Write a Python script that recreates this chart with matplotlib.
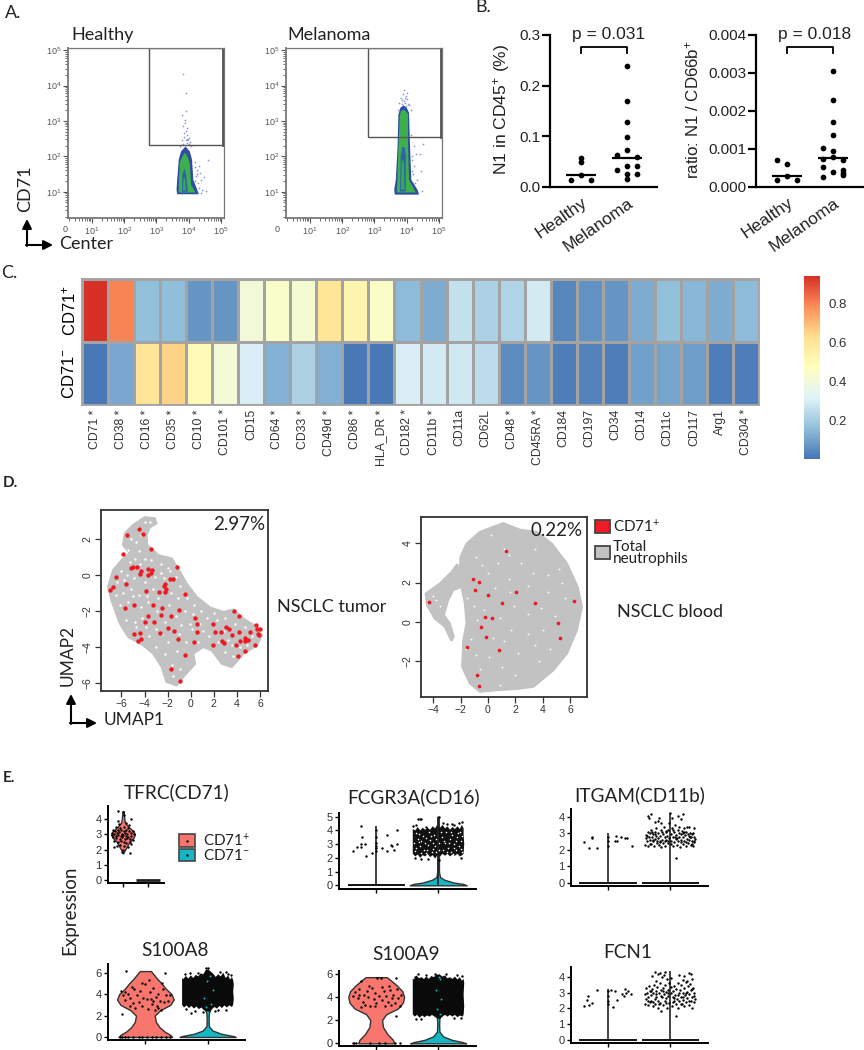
import numpy as np
import matplotlib
matplotlib.use("Agg")
import matplotlib.pyplot as plt
from matplotlib.patches import Rectangle
from matplotlib.colors import LinearSegmentedColormap
from matplotlib.transforms import ScaledTranslation

plt.rcParams['mathtext.default'] = 'regular'
W, H = 864, 1050
SANS = 'Liberation Sans'
HUM = 'Lato'
plt.rcParams['font.family'] = [SANS, 'DejaVu Sans']

# ---------- Panel A (log10 coordinates) ----------
gate_healthy = (2.77, 2.31)
gate_melanoma = (2.81, 2.56)
h_outer = [(3.62,1.06),(3.64,.93),(4.31,.93),(4.26,1.06),(4.14,1.34),(4.10,1.91),(4.03,2.14),(3.90,2.28),(3.76,2.14),(3.69,1.91),(3.64,1.34)]
h_green = [(3.69,.98),(4.21,.98),(4.07,1.20),(4.03,1.81),(3.97,1.98),(3.88,2.11),(3.79,1.98),(3.72,1.81),(3.69,1.20)]
h_blue = [(3.79,1.0),(3.97,1.0),(3.92,1.48),(3.87,1.67),(3.80,1.48)]
h_core = [(3.82,1.04),(3.91,1.04),(3.88,1.39),(3.84,1.39)]
h_sparse = [(3.82,4.33),(3.91,3.79),(3.92,3.29),(3.79,3.18),(3.87,3.04),(3.83,2.87),(3.93,2.80),(3.90,2.71),(3.95,2.61),(3.85,2.55),(4.0,2.52),(3.79,2.47),(3.90,2.45),(3.95,2.38),(4.05,2.40),(3.83,2.36),(4.59,1.91),(4.36,1.53),(4.31,1.72),(4.47,1.43),(4.39,1.34),(4.26,1.62),(4.52,1.01),(3.86,2.65),(3.97,2.47),(4.02,2.34),(3.76,2.33),(4.22,1.45),(4.30,1.25),(4.42,1.05),(3.88,2.95),(3.94,2.5),(4.08,2.3),(3.72,2.3),(4.18,1.85),(4.2,1.7),(4.25,1.5),(4.2,1.3),(4.33,1.1),(4.38,.98)]
m_outer = [(3.61,1.06),(3.63,.92),(4.38,.92),(4.33,1.06),(4.14,1.34),(4.10,2.28),(4.07,3.23),(4.0,3.37),(3.90,3.44),(3.80,3.37),(3.74,3.18),(3.71,2.19),(3.66,1.34)]
m_green = [(3.69,.98),(4.28,.98),(4.07,1.34),(4.04,2.28),(4.04,3.18),(3.97,3.28),(3.90,3.32),(3.82,3.28),(3.78,3.13),(3.74,2.19),(3.71,1.34)]
m_blue = [(3.79,1.01),(3.97,1.01),(3.97,2.0),(3.94,2.24),(3.87,2.28),(3.81,2.0)]
m_core = [(3.82,1.06),(3.93,1.06),(3.91,1.81),(3.87,1.91),(3.84,1.81)]
m_sparse = [(3.92,3.87),(3.87,3.75),(3.97,3.70),(3.82,3.65),(4.02,3.61),(3.90,3.56),(3.77,3.51),(4.07,3.46),(4.51,2.36),(4.41,2.08),(4.28,2.08),(4.22,1.72),(4.43,1.58),(4.33,1.34),(4.48,1.01),(4.17,2.0),(4.22,2.28),(3.85,3.6),(3.95,3.5),(4.0,3.8),(3.72,3.3),(4.12,3.3),(4.15,1.6),(3.93,3.65),(3.84,3.48),(4.03,3.47),(3.98,3.42),(4.12,2.6),(4.15,1.9),(4.2,1.5),(4.25,1.25)]

# ---------- Panel B ----------
b_cats = ['Healthy', 'Melanoma']
b1_h_x = [0, 0, 0, -.21, .21]
b1_h_y = [.058, .049, .023, .0145, .0145]
b1_m_x = [0, 0, 0, 0, 0, -.21, .21, 0, .21, -.21, 0, .21, 0]
b1_m_y = [.239, .169, .129, .099, .074, .064, .060, .041, .041, .033, .026, .026, .016]
b1_med = [.023, .057]
b2_h_x = [-.21, 0, 0, -.21, .21]
b2_h_y = [.00071, .00061, .00028, .000175, .00019]
b2_m_x = [0, 0, 0, 0, -.21, 0, 0, -.21, .21, -.21, .21, 0, .21, -.21, .21]
b2_m_y = [.00305, .00228, .00172, .00138, .00102, .00095, .00078, .00075, .00072, .00052, .00044, .00039, .00031, .00026, .00036]
b2_med = [.00028, .00076]

# ---------- Panel C ----------
markers = ['CD71 *','CD38 *','CD16 *','CD35 *','CD10 *','CD101 *','CD15','CD64 *','CD33 *','CD49d *','CD86 *','HLA_DR *','CD182 *','CD11b *','CD11a','CD62L','CD48 *','CD45RA *','CD184','CD197','CD34','CD14','CD11c','CD117','Arg1','CD304 *']
row_pos = [.94,.80,.16,.155,.07,.07,.40,.44,.42,.60,.52,.45,.15,.12,.26,.21,.22,.29,.04,.06,.07,.12,.16,.14,.12,.15]
row_neg = [.01,.11,.60,.65,.50,.41,.30,.13,.21,.125,.01,.01,.30,.29,.28,.245,.05,.07,.02,.03,.02,.095,.10,.085,.02,.02]
heat_colors = ['#4575B4', '#91BFDB', '#E0F3F8', '#FFFFBF', '#FEE090', '#FC8D59', '#D73027']

# ---------- Panel D ----------
tumor_outline = [(-3.97,3.19),(-3.10,3.13),(-2.96,2.85),(-3.54,2.63),(-3.83,2.20),(-3.77,1.65),(-3.25,1.37),(-2.81,1.09),(-1.65,.91),(-.93,.17),(-.35,-.48),(.52,-1.22),(1.68,-1.81),(2.84,-2.06),(3.71,-1.93),(4.58,-2.43),(5.74,-2.89),(6.17,-3.35),(5.74,-3.91),(4.58,-4.37),(3.57,-5.11),(2.70,-4.93),(1.83,-4.19),(1.10,-4.0),(.23,-4.37),(.38,-4.93),(-.64,-5.67),(-1.22,-6.13),(-2.09,-5.94),(-2.52,-5.11),(-3.25,-4.37),(-4.12,-3.91),(-5.42,-3.44),(-6.14,-2.70),(-6.87,-1.41),(-7.16,-.67),(-6.72,.26),(-6.0,.81),(-5.28,1.19),(-5.86,1.65),(-5.71,2.30),(-4.99,2.76)]
tumor_red_x = [-4.46,-5.48,-4.17,-3.45,-5.88,-1.22,-4.99,-5.13,-4.64,-3.68,-3.39,-4.32,-4.41,-3.68,-3.45,-6.49,-6.70,-6.99,-5.62,-3.91,-2.75,-1.80,-1.51,-2.23,-2.29,-2.14,-2.23,-.46,-5.65,-4.93,-3.28,-2.49,-.99,-3.68,-2.55,-1.74,-3.97,-3.19,-1.97,-1.48,-2.67,-4.87,-4.35,-1.10,-4.29,-4.55,.32,.38,.52,.52,-.46,-1.74,-.96,1.94,2.14,2.64,1.94,2.70,2.87,3.10,3.36,3.54,4.20,3.77,4.20,5.65,6.0,5.77,5.80,5.91,5.13,3.97,4.29,4.67,4.72,5.01,5.54,4.75,4.12]
tumor_red_y = [2.54,2.20,2.26,1.43,1.15,.41,.44,.35,.41,.30,.26,.20,.07,-.02,.11,-.13,-.69,-.85,-.52,-.91,-.93,-.24,-.26,-.52,-.61,-.81,-.96,-1.04,-1.83,-1.69,-1.67,-1.83,-1.93,-2.30,-2.24,-2.30,-2.61,-2.59,-2.93,-3.09,-3.22,-3.28,-3.22,-3.56,-3.57,-3.69,-3.74,-2.41,-2.74,-3.15,-4.46,-5.24,-5.89,-2.74,-3.17,-3.17,-3.91,-3.65,-3.76,-2.87,-3.02,-3.31,-3.17,-2.0,-2.31,-2.76,-2.98,-3.0,-3.30,-3.35,-3.19,-3.87,-3.65,-3.50,-3.67,-3.61,-3.91,-4.24,-4.52]
tumor_gaps = [(-4.6,2.6),(-4.0,2.9),(-3.5,2.9),(-5.2,2.0),(-4.7,1.8),(-4.3,2.2),(-5.4,1.4),(-4.5,1.3),(-4.0,.9),(-5.3,.7),(-4.8,.9),(-3.4,.8),(-2.6,.6),(-2.0,.4),(-6.0,.2),(-5.5,.0),(-4.9,-.2),(-4.0,-.4),(-3.1,-.1),(-2.6,.1),(-1.3,-.1),(-.9,-.6),(-6.4,-.4),(-5.9,-1.0),(-5.2,-.8),(-4.5,-1.1),(-3.3,-.8),(-2.8,-1.3),(-1.7,-1.0),(-1.1,-1.3),(-.3,-1.3),(.3,-1.7),(-6.1,-1.7),(-5.4,-1.5),(-4.3,-1.8),(-3.7,-1.5),(-2.9,-2.0),(-1.9,-1.7),(-1.3,-2.3),(-.5,-2.0),(.2,-2.2),(.9,-2.0),(1.4,-2.4),(2.3,-2.5),(3.0,-2.4),(-5.6,-2.5),(-4.8,-2.6),(-4.2,-2.4),(-3.0,-3.0),(-2.2,-2.6),(-.8,-2.8),(.1,-3.0),(1.1,-3.1),(1.6,-3.4),(2.4,-3.7),(3.2,-3.6),(3.8,-2.7),(4.7,-2.9),(5.3,-3.4),(-4.7,-2.9),(-3.6,-3.4),(-2.0,-3.7),(-.4,-3.7),(.6,-3.7),(3.0,-4.3),(3.7,-4.5),(-3.0,-4.0),(-2.2,-4.4),(-1.2,-4.2),(-1.6,-5.0),(-.9,-5.2),(-1.5,-5.6),(4.9,-3.9),(-5.0,-1.2),(-3.9,-2.9),(-2.5,-3.3),(-1.0,-3.3),(.8,-2.7),(2.0,-2.1),(2.9,-3.1),(3.6,-3.9),(4.3,-4.0),(-6.5,-1.1),(-5.8,-.3),(-4.4,.6),(-3.8,-1.2),(-2.3,-.2),(-1.8,.2),(-.6,-1.0),(-.1,-2.7)]
blood_body = [(1.12,5.03),(2.34,4.69),(3.56,4.58),(4.66,3.98),(5.76,2.97),(6.54,1.78),(6.85,.76),(6.49,-.42),(5.76,-1.61),(4.78,-2.46),(3.32,-3.31),(2.10,-3.42),(.88,-3.47),(-.59,-3.56),(-1.32,-3.14),(-1.88,-2.29),(-1.80,-.93),(-1.56,-.08),(-1.68,.93),(-1.93,1.78),(-2.05,2.54),(-2.0,3.31),(-1.56,3.98),(-.59,4.58)]
blood_lobe = [(-4.54,1.44),(-3.51,1.95),(-2.66,2.54),(-2.24,2.93),(-2.05,2.54),(-1.93,1.78),(-2.54,1.61),(-2.90,1.10),(-3.22,.34),(-2.78,-.08),(-2.49,-.76),(-2.66,-.97),(-3.15,-.25),(-3.88,.17),(-4.44,.85)]
blood_red_x = [1.32,-1.10,-.66,-.98,-.02,2.05,1.0,3.46,6.24,-4.29,-.24,.32,-.51,-.12,-1.54,.80,5.07,5.27,-.78,-.66]
blood_red_y = [3.61,2.19,2.03,1.61,1.37,1.53,.97,.97,1.08,1.02,.24,.17,-.27,-.76,-1.29,-1.42,-.08,-.83,-2.73,-3.27]
blood_gaps = [(1.2,3.7),(1.5,3.4),(.2,4.4),(3.4,3.7),(5.2,2.7),(5.4,2.0),(2.4,3.0),(.7,3.0),(-.9,3.3),(3.3,2.5),(4.4,2.4),(.0,2.5),(1.5,2.2),(-.4,2.9),(.5,1.7),(2.9,1.8),(4.4,1.5),(5.6,1.2),(-1.0,.8),(-.3,.6),(1.9,.8),(2.9,.4),(3.9,.7),(4.9,.3),(.9,.2),(-.8,.1),(1.7,-.4),(2.9,-.6),(4.0,-.4),(-1.2,-.9),(.4,-.8),(1.2,-1.0),(3.4,-1.2),(4.5,-1.4),(-.9,-1.7),(.1,-1.8),(2.2,-1.6),(3.7,-2.0),(1.0,-2.3),(-.6,-2.4),(2.0,-2.7),(.9,-3.2),(-3.8,1.1),(-3.5,.8),(-4.0,1.3),(-1.5,1.2),(-1.6,-1.4),(1.6,1.5)]

# ---------- Panel E ----------
tfrc_y = [4.55,4.2,3.8,3.5,3.2,3.0,2.8,2.5,2.2,1.9,1.75]
tfrc_w = [.02,.04,.07,.22,.42,.47,.42,.25,.15,.05,.01]
tfrc_pts = [(-.22,4.55),(.0,4.5),(.03,4.3),(.33,4.05),(-.2,3.9),(-.15,3.7),(.1,3.75),(.22,3.6),(-.3,3.5),(-.12,3.45),(.05,3.5),(.18,3.4),(-.42,3.3),(-.33,3.25),(-.22,3.3),(-.08,3.3),(.02,3.25),(.12,3.3),(.25,3.25),(.38,3.2),(-.45,3.1),(-.36,3.05),(-.26,3.1),(-.16,3.15),(-.05,3.05),(.07,3.1),(.16,3.05),(.3,3.1),(.42,3.0),(-.44,2.95),(-.3,2.9),(-.2,2.95),(-.1,2.9),(.0,2.95),(.1,2.9),(.2,2.85),(.33,2.9),(-.4,2.8),(-.27,2.75),(-.14,2.7),(-.03,2.8),(.06,2.7),(.15,2.75),(.26,2.7),(.38,2.65),(-.35,2.55),(-.22,2.5),(-.1,2.55),(.03,2.5),(.13,2.45),(.28,2.5),(-.38,2.2),(-.25,2.25),(-.12,2.3),(.05,2.25),(.2,2.2),(.3,2.35),(-.02,2.0),(.27,1.75),(-.05,1.85)]
fcgr_pts1 = [(-.38,2.49),(-.31,2.8),(-.24,2.8),(-.24,4.35),(-.23,3.55),(-.25,3.04),(-.18,3.04),(-.17,2.13),(-.06,2.37),(.18,3.65),(.10,2.75),(.17,2.49),(.24,2.92),(.26,2.85),(.29,2.56),(.33,3.04),(.33,4.06),(0,2.5),(0,2.7),(0,2.9),(0,3.05),(0,3.5),(0,4.0)]
fcgr_cloud = [(-.41,2.3),(-.37,2.1),(-.33,2.25),(-.29,2.0),(-.25,2.2),(-.21,2.1),(-.17,2.3),(-.13,2.05),(-.09,2.2),(-.05,1.95),(-.01,2.2),(.03,2.1),(.07,2.3),(.11,2.15),(.15,2.3),(.19,2.1),(.23,2.25),(.27,2.15),(.31,2.3),(.35,2.1),(.39,2.2),(.41,2.3),(.42,3.0),(.41,3.7),(.41,4.15),(.38,4.4),(.35,4.1),(.31,4.3),(.27,4.1),(.23,4.25),(.19,4.05),(.15,4.3),(.11,4.15),(.07,4.4),(.03,4.2),(-.01,4.45),(-.05,4.15),(-.09,4.3),(-.13,4.05),(-.17,4.2),(-.21,4.05),(-.25,4.2),(-.29,4.0),(-.33,4.25),(-.37,4.0),(-.41,4.1)]
fcgr_stray = [(-.33,4.85),(-.30,4.85),(-.28,4.85),(.02,4.95),(.39,4.65),(.33,4.55),(.22,4.5),(.02,1.85),(.37,2.0),(-.16,1.95),(-.38,2.0),(.26,4.4),(-.2,4.25),(.15,4.5),(.07,4.55),(-.35,4.4),(-.4,4.3),(-.27,1.95)]
fcgr_gaps = [(-.37,2.5),(-.33,3.4),(-.36,3.8),(-.29,2.9),(-.25,3.6),(-.27,2.35),(-.22,3.05),(-.18,2.6),(-.15,3.9),(-.13,3.3),(-.1,2.4),(-.07,3.7),(-.05,2.85),(.06,3.5),(.08,2.55),(.11,3.1),(.13,3.85),(.16,2.7),(.19,3.35),(.21,2.4),(.23,3.7),(.26,3.0),(.28,2.55),(.3,3.55),(.33,2.85),(.35,3.9),(.37,3.25),(.38,2.4),(-.31,3.15),(-.2,2.35),(.24,2.3),(-.09,3.05),(-.39,3.1),(-.35,2.7),(-.31,3.75),(-.27,3.2),(-.23,2.6),(-.19,3.45),(-.16,2.95),(-.11,3.6),(-.08,2.65),(-.03,3.35),(.02,2.6),(.04,3.9),(.09,3.2),(.14,2.45),(.17,3.05),(.2,3.85),(.25,2.75),(.29,3.25),(.32,3.8),(.36,2.65),(.39,3.6),(.02,3.05),(-.04,2.45)]
itgam_pts1 = [(-.38,2.49),(-.31,2.12),(-.26,2.78),(-.25,2.72),(-.17,2.10),(.13,2.86),(.11,2.55),(.15,2.51),(.21,2.80),(.275,2.73),(.31,2.73),(.39,2.24),(0,2.2),(0,2.5),(0,2.8)]
itgam_pts2 = [(-.40,2.3),(-.39,2.7),(-.38,2.9),(-.37,2.5),(-.36,3.1),(-.35,2.2),(-.34,2.8),(-.33,2.6),(-.32,3.0),(-.31,2.35),(-.30,3.2),(-.29,2.75),(-.28,2.5),(-.27,2.95),(-.26,2.2),(-.25,3.1),(-.24,2.65),(-.23,2.85),(-.22,3.3),(-.21,2.4),(-.20,2.7),(-.19,3.0),(-.18,2.3),(-.17,2.55),(-.16,2.85),(-.15,3.2),(-.14,2.15),(-.13,2.6),(-.12,2.95),(-.11,2.4),(-.10,3.35),(-.09,2.75),(-.08,2.25),(-.07,3.05),(-.06,2.6),(-.05,2.85),(-.04,2.4),(-.03,3.2),(-.02,2.7),(-.01,3.6),(.01,2.5),(.02,2.95),(.03,3.3),(.04,2.2),(.05,2.75),(.06,3.05),(.07,2.45),(.08,3.5),(.09,2.65),(.10,2.9),(.11,2.3),(.12,3.2),(.13,2.55),(.14,2.8),(.15,3.4),(.16,2.15),(.17,2.95),(.18,2.6),(.19,3.15),(.20,2.35),(.21,2.75),(.22,3.3),(.23,2.5),(.24,2.9),(.25,2.2),(.26,3.05),(.27,2.65),(.28,3.35),(.29,2.4),(.30,2.85),(.31,2.6),(.32,3.0),(.33,2.3),(.34,2.75),(.35,2.95),(.36,2.5),(.37,2.2),(.38,2.8),(.39,2.45),(.40,2.65),(-.36,4.05),(-.30,4.15),(-.34,3.9),(-.25,3.7),(-.2,3.75),(-.15,3.6),(-.18,3.9),(.0,4.2),(.03,3.9),(.12,4.05),(.2,4.18),(.17,3.85),(.09,1.5),(.38,3.3),(.3,3.35),(-.37,2.85),(-.33,2.35),(-.29,3.05),(-.27,2.6),(-.24,2.95),(-.21,2.55),(-.16,2.45),(-.13,3.05),(-.09,2.5),(-.06,3.15),(-.03,2.55),(.02,2.35),(.05,3.2),(.08,2.8),(.11,2.7),(.14,3.0),(.17,2.45),(.2,3.0),(.23,3.1),(.26,2.45),(.29,2.95),(.32,2.75),(.35,2.35),(.37,3.0),(.38,2.55)]
fcn_pts1 = [(-.38,2.17),(-.30,2.19),(-.26,2.34),(-.33,2.55),(-.32,2.77),(-.17,3.15),(.14,2.51),(.08,2.09),(.045,3.19),(.11,3.13),(.22,2.94),(.275,3.23),(.26,2.77),(.32,3.09),(.365,2.94),(.29,2.98),(0,2.5),(0,2.3),(0,2.8),(0,3.1)]
fcn_pts2 = [(-.41,2.3),(-.40,2.9),(-.39,3.3),(-.38,2.6),(-.37,3.0),(-.36,2.2),(-.35,2.75),(-.34,3.4),(-.33,2.4),(-.32,3.1),(-.31,2.85),(-.30,2.5),(-.29,3.25),(-.28,2.15),(-.27,2.95),(-.26,3.5),(-.25,2.6),(-.24,2.3),(-.23,3.1),(-.22,2.75),(-.21,3.35),(-.20,2.0),(-.19,2.5),(-.18,2.95),(-.17,3.6),(-.16,2.35),(-.15,3.15),(-.14,1.85),(-.13,2.7),(-.12,3.3),(-.11,2.2),(-.10,2.9),(-.09,3.5),(-.08,2.45),(-.07,3.05),(-.06,2.65),(-.05,2.05),(-.04,3.2),(-.03,2.8),(-.02,3.65),(-.01,2.35),(.01,2.95),(.02,3.35),(.03,2.15),(.04,2.7),(.05,3.1),(.06,2.5),(.07,3.45),(.08,2.85),(.09,2.3),(.10,3.25),(.11,2.6),(.12,3.6),(.13,2.0),(.14,2.95),(.15,2.45),(.16,3.15),(.17,2.75),(.18,3.5),(.19,2.25),(.20,3.0),(.21,2.55),(.22,3.3),(.23,2.15),(.24,2.85),(.25,3.7),(.26,2.4),(.27,3.05),(.28,2.65),(.29,3.4),(.30,2.2),(.31,2.9),(.32,3.55),(.33,2.5),(.34,3.15),(.35,2.0),(.36,2.75),(.37,3.3),(.38,2.4),(.39,3.0),(.40,2.6),(-.29,4.05),(-.25,4.3),(-.2,4.2),(-.17,4.25),(-.13,4.0),(-.1,4.15),(-.08,4.35),(-.22,3.75),(-.05,3.85),(.02,3.95),(.09,1.5),(.15,4.1),(.22,4.05),(.3,4.25),(.33,4.2),(.36,3.85),(.2,3.8),(.27,3.75),(-.36,2.5),(-.3,3.1),(-.27,2.4),(-.23,2.9),(-.18,2.25),(-.15,2.8),(-.11,3.1),(-.06,2.35),(-.03,2.95),(.04,2.4),(.07,2.65),(.12,2.85),(.17,2.3),(.21,2.75),(.26,2.95),(.31,2.45),(.35,3.25),(.38,2.8)]
s8_y = [0,.2,.5,.9,1.4,2,2.5,3,3.5,4,4.5,5,5.5,6.15]
s8_w = [.43,.40,.31,.23,.17,.15,.24,.40,.455,.42,.33,.26,.18,.09]
s8_pts = [(-.31,6.16),(.31,6.0),(-.38,2.16),(-.39,4.25),(-.36,3.94),(-.32,3.47),(-.28,4.03),(-.25,3.6),(-.22,4.7),(-.2,3.2),(-.16,2.75),(-.14,3.9),(-.11,3.3),(-.08,4.3),(-.05,2.9),(-.03,3.6),(.0,4.9),(.02,3.55),(.04,2.6),(.07,4.2),(.09,3.5),(.11,3.05),(.13,4.6),(.15,2.5),(.17,3.7),(.19,2.9),(.21,4.0),(.23,3.4),(.25,2.55),(.28,4.5),(.3,3.3),(.33,3.95),(.36,3.4),(.39,3.9),(-.33,4.2),(-.24,2.9),(-.18,4.5),(-.06,5.0),(.06,5.3),(.12,3.4),(.2,2.7),(.27,5.0),(-.41,.02),(-.37,.02),(-.33,.02),(-.28,.02),(-.2,.02),(-.1,.02),(-.05,.02),(.02,.02),(.1,.02),(.17,.02),(.25,.02),(.33,.02),(.39,.02)]
s8_cloud = [(-.41,3.0),(-.38,2.75),(-.34,2.95),(-.3,2.7),(-.26,2.9),(-.22,2.65),(-.18,2.85),(-.14,2.6),(-.1,2.75),(-.06,2.5),(-.02,2.4),(.03,2.35),(.07,2.6),(.11,2.8),(.15,2.65),(.19,2.9),(.23,2.7),(.27,2.95),(.31,2.75),(.35,2.95),(.39,2.8),(.41,3.0),(.42,3.6),(.41,4.2),(.42,4.9),(.41,5.3),(.39,5.6),(.36,5.35),(.33,5.75),(.29,5.5),(.25,6.0),(.21,5.65),(.17,5.85),(.13,5.6),(.09,5.9),(.05,6.1),(.01,6.3),(-.03,6.25),(-.07,5.85),(-.11,5.95),(-.15,5.65),(-.19,5.8),(-.23,5.5),(-.27,5.75),(-.31,5.45),(-.35,5.7),(-.39,5.4),(-.41,5.5)]
s8_stray = [(-.26,2.2),(-.08,2.3),(.12,2.4),(-.03,6.45),(.0,6.4),(.2,6.05),(.29,6.1),(.33,5.85),(-.36,5.85),(-.28,5.95),(-.15,5.95),(.38,5.75),(-.35,2.6),(.3,2.55),(-.2,2.45),(.17,2.55)]
s8_teal = [(.03,5.7),(-.01,5.2),(.08,4.4),(-.06,3.6),(.05,3.1),(-.02,2.8)]
s9_y = [0,.3,.8,1.4,2,2.5,3,3.5,4,4.5,5,5.4,5.7]
s9_w = [.29,.27,.18,.11,.095,.16,.35,.43,.45,.42,.33,.24,.17]
s9_pts = [(-.38,4.1),(-.34,4.4),(-.3,3.9),(-.27,4.7),(-.24,3.1),(-.22,3.6),(-.2,4.2),(-.18,3.3),(-.15,4.55),(-.13,4.0),(-.1,3.2),(-.07,4.8),(-.04,3.85),(-.02,4.3),(.0,3.5),(.02,5.65),(.05,4.05),(.07,5.65),(.09,3.7),(.12,4.5),(.14,3.2),(.16,4.1),(.19,3.6),(.22,4.6),(.24,3.3),(.27,4.2),(.3,3.5),(.33,4.65),(.35,3.9),(.32,5.65),(.38,3.2),(.32,2.35),(-.28,4.15),(-.25,5.4),(-.12,4.9),(-.02,3.2),(.1,4.85),(.2,4.95),(.26,3.9),(.4,4.2),(-.38,.02),(-.35,.02),(-.33,.02),(.39,.02),(.31,.02),(-.1,.02),(.05,.02),(.15,.02)]
s9_cloud = [(-.41,2.5),(-.38,2.3),(-.34,2.45),(-.3,2.2),(-.26,2.4),(-.22,2.25),(-.18,2.4),(-.14,2.3),(-.1,2.45),(-.06,2.3),(-.02,2.15),(.03,2.1),(.07,2.3),(.11,2.45),(.15,2.3),(.19,2.45),(.23,2.3),(.27,2.45),(.31,2.25),(.35,2.4),(.39,2.3),(.41,2.45),(.42,3.2),(.41,4.2),(.42,5.2),(.41,5.55),(.38,5.4),(.35,5.7),(.31,5.5),(.27,5.75),(.23,5.55),(.19,5.7),(.15,5.6),(.11,5.85),(.07,5.75),(.02,5.95),(-.03,5.9),(-.07,5.7),(-.11,5.8),(-.15,5.55),(-.19,5.75),(-.23,5.55),(-.27,5.7),(-.31,5.6),(-.35,5.85),(-.39,5.5),(-.41,5.6)]
s9_stray = [(-.33,5.95),(-.2,5.85),(-.05,6.0),(.12,5.95),(.3,5.85),(.38,5.8),(-.38,5.7),(-.35,2.1),(.25,2.15),(-.28,2.1),(.37,2.2)]
s9_teal = [(.01,5.75),(.03,5.5),(-.03,4.6),(.05,3.8),(-.02,3.0),(.03,2.5)]
teal_base_y = [0,.1,.3,.6,1.0,1.6,2.2,2.7,3.2]
teal_base_w = [.45,.40,.22,.08,.02,.015,.02,.05,.10]
fcgr_teal_y = [0,.1,.2,.4,.6,1.0,3.0,5.0]
fcgr_teal_w = [.46,.40,.25,.10,.03,.012,.012,.01]

SALMON, TEAL = '#F8766D', '#14B8C4'
GREY = '#C2C2C2'
RED = '#EE1C25'

fig = plt.figure(figsize=(W/100, H/100), dpi=100)

def axpx(l, t, r, b):
    return fig.add_axes([l/W, 1-b/H, (r-l)/W, (b-t)/H])

ov = fig.add_axes([0, 0, 1, 1], zorder=50)
ov.set_xlim(0, W); ov.set_ylim(H, 0); ov.axis('off'); ov.patch.set_alpha(0)

def T(x, y, s, size=11, fam=HUM, ha='left', va='center', rot=0, color='#222222', weight='normal'):
    ov.text(x, y, s, fontsize=size, family=[fam, 'DejaVu Sans'], ha=ha, va=va, rotation=rot, color=color, weight=weight)

def arrows(x, y, top, right):
    ov.annotate('', xy=(x, top), xytext=(x, y+1), arrowprops=dict(arrowstyle='-|>,head_width=.28,head_length=.55', color='k', lw=1.5, shrinkA=0, shrinkB=0))
    ov.annotate('', xy=(right, y), xytext=(x-1, y), arrowprops=dict(arrowstyle='-|>,head_width=.28,head_length=.55', color='k', lw=1.5, shrinkA=0, shrinkB=0))

# ---- Panel A
def flow(box, xl, yl, gate, layers, sparse):
    ax = axpx(*box)
    ax.set_xlim(*xl); ax.set_ylim(*yl)
    for poly, c in zip(layers, ['#2E4BA6', '#3CB04A', '#2F62AE', '#35A85A']):
        ax.fill(*zip(*poly), color=c, lw=0)
    ax.scatter(*zip(*sparse), s=1.5, color='#8496D4', lw=0)
    ax.add_patch(Rectangle((gate[0], gate[1]), xl[1]-gate[0]-.03, yl[1]-gate[1], fill=False, ec='#555555', lw=1))
    ax.plot([xl[1]-.04]*2, [gate[1], yl[1]], color='#555555', lw=2)
    ax.set_xticks([1, 2, 3, 4, 5]); ax.set_yticks([1, 2, 3, 4, 5])
    ax.set_xticklabels([f'10$^{k}$' for k in range(1, 6)])
    ax.set_yticklabels([f'10$^{k}$' for k in range(1, 6)])
    minor = [k + np.log10(m) for k in range(0, 5) for m in range(2, 10)]
    ax.set_xticks([v for v in minor if xl[0] < v < xl[1]], minor=True)
    ax.set_yticks([v for v in minor if yl[0] < v < yl[1]], minor=True)
    ax.tick_params(labelsize=6.5, length=3.5, width=.8, color='#555555', labelcolor='#555555', pad=1.5)
    ax.tick_params(which='minor', length=2, width=.6, color='#555555')
    for s in ax.spines.values():
        s.set_color('#777777'); s.set_linewidth(.9)
    ax.spines['left'].set_linewidth(1.3); ax.spines['bottom'].set_linewidth(1.3)

flow((68, 48, 224, 218), (.26, 5.09), (.26, 5.06), gate_healthy, [h_outer, h_green, h_blue, h_core], h_sparse)
flow((286, 48, 442, 218), (.26, 5.09), (.26, 5.06), gate_melanoma, [m_outer, m_green, m_blue, m_core], m_sparse)
T(65, 229, '0', 6.5, SANS, ha='center', color='#555555')
T(277, 229, '0', 6.5, SANS, ha='center', color='#555555')
T(71, 35, 'Healthy', 13)
T(287, 35, 'Melanoma', 13)
T(25, 189, 'CD71', 13, ha='center', rot=90)
T(59, 244, 'Center', 13)
arrows(27, 245, 219, 53)

# ---- Panel B
def dots(box, xl, yl, ticks, fmt, hx, hy, mx, my, med, br, ptxt):
    ax = axpx(*box)
    ax.set_xlim(*xl); ax.set_ylim(*yl)
    ax.scatter(1+np.array(hx), hy, s=17, color='k', lw=0, clip_on=False)
    ax.scatter(2+np.array(mx), my, s=17, color='k', lw=0, clip_on=False)
    ax.hlines(med, [.67, 1.67], [1.33, 2.33], color='k', lw=1.6)
    ax.plot([1, 1, 2, 2], [br[0], br[1], br[1], br[0]], color='k', lw=1.3)
    ax.text(1.59, br[2], ptxt, ha='center', va='center', fontsize=12.5, color='#222222')
    ax.set_xticks([1, 2]); ax.set_xticklabels(b_cats, rotation=35, ha='right', rotation_mode='anchor', fontsize=12.5, color='#222222')
    shift = ScaledTranslation(7/72, 0, fig.dpi_scale_trans)
    for lab in ax.get_xticklabels():
        lab.set_transform(lab.get_transform() + shift)
    ax.set_yticks(ticks); ax.set_yticklabels([fmt % t for t in ticks], fontsize=11, color='#222222')
    ax.tick_params(axis='x', length=0, pad=6)
    ax.tick_params(axis='y', length=6, width=1.6, pad=1)
    ax.spines[['top', 'right']].set_visible(False)
    ax.spines[['left', 'bottom']].set_linewidth(1.6)
    return ax

ax = dots((550, 35, 657, 187), (.326, 2.65), (0, .3), [0, .1, .2, .3], '%.1f', b1_h_x, b1_h_y, b1_m_x, b1_m_y, b1_med, (.265, .276, .3), 'p = 0.031')
ax = dots((756, 35, 864, 187), (.326, 2.67), (0, .004), [0, .001, .002, .003, .004], '%.3f', b2_h_x, b2_h_y, b2_m_x, b2_m_y, b2_med, (.00353, .00368, .004), 'p = 0.018')
T(501, 109, 'N1 in CD45$^{+}$ (%)', 12.6, SANS, ha='center', rot=90)
T(692, 110, 'ratio: N1 / CD66b$^{+}$', 12.2, SANS, ha='center', rot=90)

# ---- Panel C
ax = axpx(82, 279, 759, 405)
heat_cmap = LinearSegmentedColormap.from_list('heat', heat_colors)
mesh = ax.pcolormesh(np.array([row_pos, row_neg]), cmap=heat_cmap, vmin=0, vmax=.94, edgecolors='#A3A3A3', linewidth=.9)
ax.invert_yaxis()
ax.set_xticks(np.arange(len(markers))+.5); ax.set_xticklabels(markers, rotation=90, fontsize=8.8, color='#333333', va='top')
ax.set_yticks([])
ax.tick_params(axis='x', length=0, pad=3)
for s in ax.spines.values():
    s.set_color('#A3A3A3'); s.set_linewidth(1.3)
cax = axpx(804, 276, 820, 459)
cb = fig.colorbar(mesh, cax=cax)
cb.outline.set_visible(False); cb.set_ticks([.2, .4, .6, .8])
cb.ax.tick_params(length=0, labelsize=9.5, labelcolor='#333333', pad=6)
T(69, 311, 'CD71$^{+}$', 12, SANS, ha='center', rot=90, color='k')
T(69, 374, 'CD71$^{-}$', 12, SANS, ha='center', rot=90, color='k')

# ---- Panel D
def umap(box, xl, yl, xt, yt, polys, gaps, rx, ry, s, gs):
    ax = axpx(*box)
    ax.set_xlim(*xl); ax.set_ylim(*yl)
    for p in polys:
        ax.fill(*zip(*p), color=GREY, lw=1.5, ec=GREY)
    ax.scatter(*zip(*gaps), s=gs, color='white', lw=0, zorder=2)
    ax.scatter(rx, ry, s=s, color='#F01820', lw=0, zorder=3)
    ax.set_xticks(xt); ax.set_yticks(yt)
    ax.set_xticklabels([str(v).replace('-', '\u2212') for v in xt])
    ax.set_yticklabels([str(v).replace('-', '\u2212') for v in yt], rotation=90, va='center')
    ax.tick_params(labelsize=7.5, length=4, width=.9, pad=2, color='#333333', labelcolor='#333333')
    for sp in ax.spines.values():
        sp.set_linewidth(1.3); sp.set_color('#333333')

umap((101, 510, 268, 691), (-7.77, 6.70), (-6.44, 3.59), [-6, -4, -2, 0, 2, 4, 6], [-6, -4, -2, 0, 2], [tumor_outline], tumor_gaps, tumor_red_x, tumor_red_y, 10, 3)
umap((421, 517, 587, 697), (-4.88, 7.22), (-3.83, 5.34), [-4, -2, 0, 2, 4, 6], [-2, 0, 2, 4], [blood_body, blood_lobe], blood_gaps, blood_red_x, blood_red_y, 7, 1.8)
T(265, 525, '2.97%', 13.5, ha='right')
T(583, 531, '0.22%', 13.5, ha='right')
T(277, 607, 'NSCLC tumor', 13)
T(617, 612, 'NSCLC blood', 13)
ov.add_patch(Rectangle((595, 520), 15, 13, fc=RED, ec='#444444', lw=1.3))
ov.add_patch(Rectangle((595, 546), 15, 13, fc=GREY, ec='#444444', lw=1.3))
T(613, 527, 'CD71$^{+}$', 11)
T(613, 547, 'Total', 11)
T(613, 559, 'neutrophils', 11)
T(68, 656, 'UMAP2', 12.5, ha='center', rot=90)
T(104, 720, 'UMAP1', 12.5)
arrows(71, 723, 694, 97)

# ---- Panel E
def vio(ax, cat, ys, ws, c):
    ys, ws = np.array(ys), np.array(ws)
    ax.fill_betweenx(ys, cat-ws, cat+ws, fc=c, ec='#333333', lw=1, zorder=1)

def vax(box, xl, yl, yt, title, tx, ty):
    ax = axpx(*box)
    ax.set_xlim(*xl); ax.set_ylim(*yl)
    ax.set_xticks([1, 2]); ax.set_xticklabels([])
    ax.set_yticks(yt)
    ax.tick_params(labelsize=8, length=3, width=1, pad=1.5, labelcolor='#333333')
    ax.spines[['top', 'right']].set_visible(False)
    ax.spines[['left', 'bottom']].set_linewidth(1.4)
    T(tx, ty, title, 13.7, ha='center')
    return ax

def pts(ax, cat, p, s=3, c='k', z=3):
    a = np.array(p)
    ax.scatter(cat+a[:, 0], a[:, 1], s=s, color=c, lw=0, zorder=z)

def flat(ax, cat, half=.46):
    ax.hlines(0, cat-half, cat+half, color='k', lw=1.3, zorder=2)

def spike(ax, cat, top):
    ax.vlines(cat, 0, top, color='#222222', lw=1.2, zorder=2)

# TFRC
ax = vax((108, 806, 164, 883), (.4, 2.63), (-.22, 4.89), [0, 1, 2, 3, 4], 'TFRC(CD71)', 177, 792)
vio(ax, 1, tfrc_y, tfrc_w, SALMON)
pts(ax, 1, tfrc_pts)
ax.hlines(0, 1.53, 2.49, color='#222222', lw=2)

# FCGR3A
ax = vax((339, 813, 476, 889), (.4, 2.61), (-.27, 5.27), [0, 1, 2, 3, 4, 5], 'FCGR3A(CD16)', 414, 797)
flat(ax, 1); spike(ax, 1, 4.35); pts(ax, 1, fcgr_pts1)
vio(ax, 2, fcgr_teal_y, fcgr_teal_w, TEAL)
ax.fill(2+np.array(fcgr_cloud)[:, 0], np.array(fcgr_cloud)[:, 1], color='#111111', lw=0, zorder=2)
pts(ax, 2, fcgr_stray)
pts(ax, 2, fcgr_gaps, s=1.3, c='white')
spike(ax, 2, 5.0)

# ITGAM
ax = vax((571, 809, 708, 886), (.405, 2.61), (-.2, 4.47), [0, 1, 2, 3, 4], 'ITGAM(CD11b)', 640, 795)
flat(ax, 1); flat(ax, 2); spike(ax, 1, 3.0); spike(ax, 2, 4.25)
pts(ax, 1, itgam_pts1); pts(ax, 2, itgam_pts2)

# S100A8
ax = vax((108, 964, 245, 1040), (.4, 2.6), (-.28, 6.81), [0, 2, 4, 6], 'S100A8', 175, 950)
vio(ax, 1, s8_y, s8_w, SALMON); pts(ax, 1, s8_pts)
vio(ax, 2, teal_base_y, teal_base_w, TEAL)
ax.fill(2+np.array(s8_cloud)[:, 0], np.array(s8_cloud)[:, 1], color='#0A0A0A', lw=0, zorder=2)
pts(ax, 2, s8_stray); pts(ax, 2, s8_teal, s=2, c=TEAL, z=4)

# S100A9
ax = vax((339, 971, 476, 1046), (.4, 2.61), (-.23, 6.23), [0, 2, 4, 6], 'S100A9', 406, 955)
vio(ax, 1, s9_y, s9_w, SALMON); pts(ax, 1, s9_pts)
vio(ax, 2, teal_base_y, teal_base_w, TEAL)
ax.fill(2+np.array(s9_cloud)[:, 0], np.array(s9_cloud)[:, 1], color='#0A0A0A', lw=0, zorder=2)
pts(ax, 2, s9_stray); pts(ax, 2, s9_teal, s=2, c=TEAL, z=4)

# FCN1
ax = vax((571, 967, 708, 1043), (.405, 2.61), (-.21, 4.64), [0, 1, 2, 3, 4], 'FCN1', 628, 953)
flat(ax, 1); flat(ax, 2); spike(ax, 1, 3.25); spike(ax, 2, 4.4)
pts(ax, 1, fcn_pts1); pts(ax, 2, fcn_pts2)

T(70, 910, 'Expression', 13.5, ha='center', rot=90)
ov.add_patch(Rectangle((179, 834), 16, 13, fc=SALMON, ec='#444444', lw=1.2))
ov.add_patch(Rectangle((179, 849), 16, 12, fc=TEAL, ec='#444444', lw=1.2))
ov.scatter([187, 187], [840.5, 855], s=3, color='k', lw=0)
T(203, 841, 'CD71$^{+}$', 11)
T(203, 856, 'CD71$^{-}$', 11)

# Panel letters
T(5, 13, 'A.', 13)
T(475, 7, 'B.', 13)
T(1, 273, 'C.', 13)
T(3, 483, 'D.', 11, weight='bold')
T(3, 778, 'E.', 11, weight='bold')

fig.savefig('out.png', dpi=100)
